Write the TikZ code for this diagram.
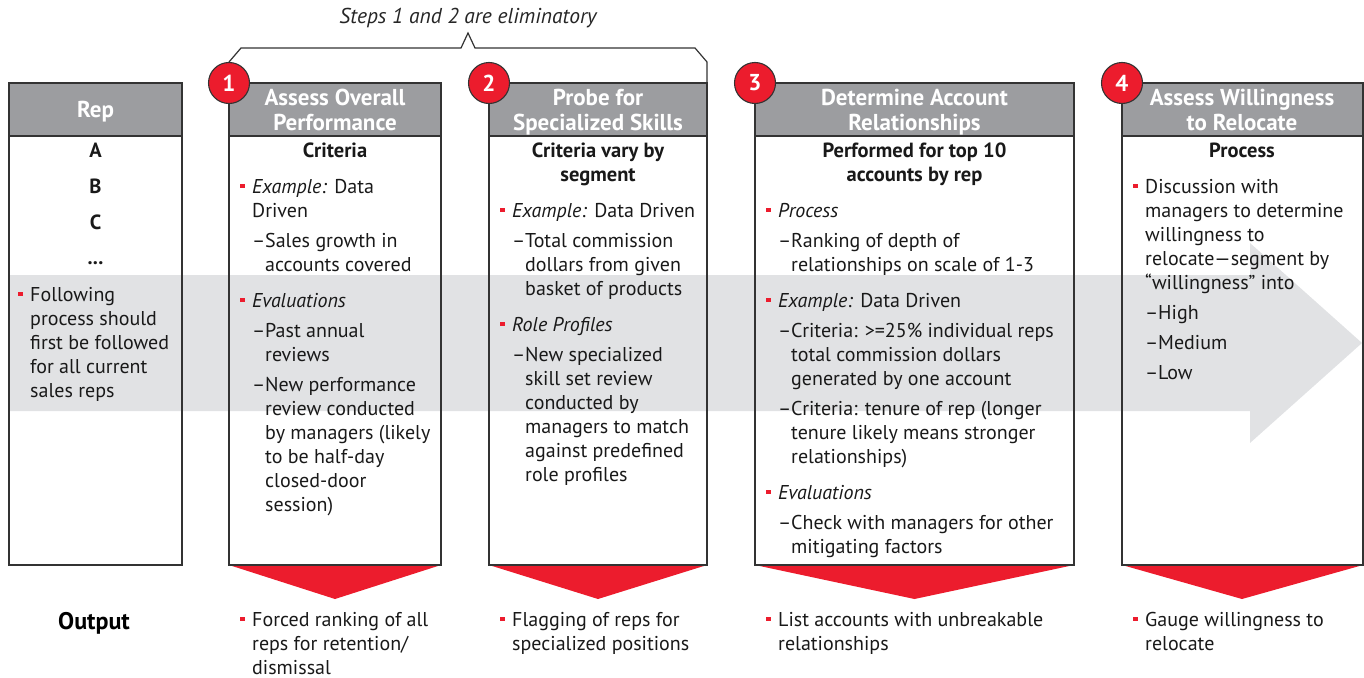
\documentclass[tikz,border=0pt]{standalone}
\usepackage{fontspec}
\setmainfont{PT Sans}
\definecolor{hdrgray}{HTML}{9C9DA0}
\definecolor{bandgray}{HTML}{E1E2E4}
\definecolor{accred}{HTML}{EC1C2D}
\definecolor{edge}{HTML}{333333}
\newcommand\bodyf{\fontsize{20}{24}\selectfont}
\newcommand\hdrf{\bfseries\fontsize{23}{25}\selectfont}
\newcommand\ml[1]{\begin{tabular}[t]{@{}l@{}}#1\end{tabular}}
\newcommand\mc[1]{\begin{tabular}[t]{@{}c@{}}#1\end{tabular}}
\tikzset{
  txt/.style={font=\bodyf, anchor=base west, inner sep=0pt, text=black!90},
  ctrb/.style={font=\bodyf\bfseries\fontsize{20.5}{24}\selectfont, anchor=base, inner sep=0pt, text=black!90},
  hdrtxt/.style={font=\hdrf, text=white, anchor=base, inner sep=0pt},
  bsq/.style={rectangle, fill=accred, minimum size=4.5pt, inner sep=0pt},
  boxline/.style={draw=edge, line width=1.4pt},
  numcirc/.style={circle, fill=accred, draw=edge, line width=1.1pt, minimum size=41pt, inner sep=0pt, text=white, font=\bfseries\fontsize{23}{23}\selectfont},
}
\newcommand{\bul}[4]{%
  \node[bsq] (#1q) at (#2+2.5, #3-7) {};
  \node[txt] (#1) at (#2+12, #3) {\ml{#4}};}
\newcommand{\dsh}[4]{%
  \node[txt] (#1d) at (#2, #3) {\textendash};
  \node[txt] (#1) at (#2+13, #3) {\ml{#4}};}
\newcommand{\stepbox}[6]{% name, left, right, header text, header center x, number
  \fill[hdrgray] (#2,83) rectangle (#3,136);
  \fill[accred] (#2,565) -- (#3,565) -- (#5,599) -- cycle;
  \draw[boxline] (#2,83) rectangle (#3,565);
  \draw[boxline] (#2,136) -- (#3,136);
  \node[hdrtxt] (#1h) at (#5,105) {\mc{#4}};
  \node[numcirc] (#1n) at (#2,83) {#6};}
\begin{document}
\begin{tikzpicture}[x=1pt,y=-1pt]
\useasboundingbox (0,0) rectangle (1364,677);
% background band arrow
\fill[bandgray] (9,275) -- (1250,275) -- (1250,243) -- (1362,343) -- (1250,443) -- (1250,411) -- (9,411) -- cycle;
% brace
\draw[edge, line width=1.2pt] (229,62) -- (241,48) -- (461,48) -- (468,33) -- (475,48) -- (695,48) -- (707,62) -- (707,83);
\node[font=\itshape\fontsize{21.5}{24}\selectfont, text=black!85, inner sep=0pt] (note) at (468,18) {Steps 1 and 2 are eliminatory};
% rep box
\fill[hdrgray] (9,83) rectangle (182,136);
\draw[boxline] (9,83) rectangle (182,565);
\draw[boxline] (9,136) -- (182,136);
\node[hdrtxt] (reph) at (95.5,117) {Rep};
\node[ctrb] (ra) at (95.5,157) {A};
\node[ctrb] (rb) at (95.5,193) {B};
\node[ctrb] (rc) at (95.5,229) {C};
\node[ctrb] (rd) at (95.5,264) {...};
\bul{r1}{18}{301}{Following\\process should\\first be followed\\for all current\\sales reps}
% step boxes
\stepbox{s1}{229}{441}{Assess Overall\\Performance}{335}{1}
\stepbox{s2}{489}{707}{Probe for\\Specialized Skills}{598}{2}
\stepbox{s3}{755}{1074}{Determine Account\\Relationships}{914.5}{3}
\stepbox{s4}{1122}{1363}{Assess Willingness\\to Relocate}{1242}{4}
% box 1
\node[ctrb] (c1) at (335,157) {Criteria};
\bul{b1a}{240}{193}{\textit{Example:} Data\\Driven}
\dsh{b1b}{252}{247}{Sales growth in\\accounts covered}
\bul{b1c}{240}{307}{\textit{Evaluations}}
\dsh{b1d}{252}{337}{Past annual\\reviews}
\dsh{b1e}{252}{391}{New performance\\review conducted\\by managers (likely\\to be half-day\\closed-door\\session)}
% box 2
\node[ctrb] (c2) at (598,157) {\mc{Criteria vary by\\segment}};
\bul{b2a}{500}{217}{\textit{Example:} Data Driven}
\dsh{b2b}{512}{247}{Total commission\\dollars from given\\basket of products}
\bul{b2c}{500}{331}{\textit{Role Profiles}}
\dsh{b2d}{512}{361}{New specialized\\skill set review\\conducted by\\managers to match\\against predefined\\role profiles}
% box 3
\node[ctrb] (c3) at (914.5,157) {\mc{Performed for top 10\\accounts by rep}};
\bul{b3a}{766}{217}{\textit{Process}}
\dsh{b3b}{778}{247}{Ranking of depth of\\relationships on scale of 1-3}
\bul{b3c}{766}{307}{\textit{Example:} Data Driven}
\dsh{b3d}{778}{337}{Criteria: >=25\% individual reps\\total commission dollars\\generated by one account}
\dsh{b3e}{778}{415}{Criteria: tenure of rep (longer\\tenure likely means stronger\\relationships)}
\bul{b3f}{766}{499}{\textit{Evaluations}}
\dsh{b3g}{778}{529}{Check with managers for other\\mitigating factors}
% box 4
\node[ctrb] (c4) at (1242,157) {Process};
\bul{b4a}{1133}{193}{Discussion with\\managers to determine\\willingness to\\relocate---segment by\\``willingness'' into}
\dsh{b4b}{1145}{319}{High}
\dsh{b4c}{1145}{349}{Medium}
\dsh{b4d}{1145}{379}{Low}
% outputs
\node[font=\bfseries\fontsize{24}{26}\selectfont, anchor=base, inner sep=0pt] (outl) at (94,629) {Output};
\bul{o1}{240}{626}{Forced ranking of all\\reps for retention/\\dismissal}
\bul{o2}{500}{626}{Flagging of reps for\\specialized positions}
\bul{o3}{766}{626}{List accounts with unbreakable\\relationships}
\bul{o4}{1133}{626}{Gauge willingness to\\relocate}
\end{tikzpicture}
\end{document}
